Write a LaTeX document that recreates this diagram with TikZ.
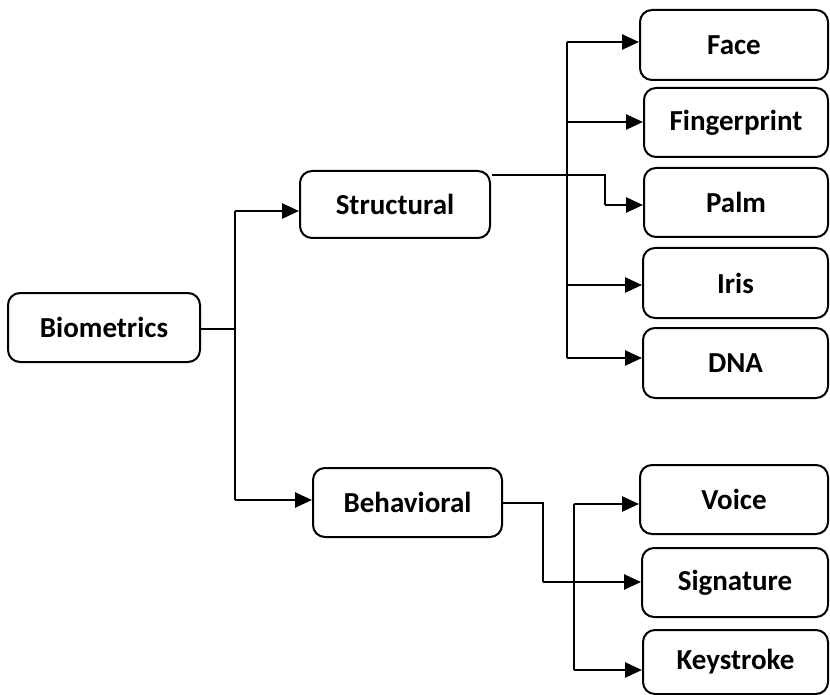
\documentclass[tikz,border=0pt]{standalone}
\usepackage{fontspec}
\setmainfont{Carlito}
\usetikzlibrary{arrows.meta}
\begin{document}
\begin{tikzpicture}[x=1pt,y=-1pt,
  box/.style={draw,line width=2pt,rounded corners=12pt,inner sep=0pt,
    font=\fontsize{29}{34}\selectfont\bfseries},
  link/.style={line width=2.6pt},
  thinlink/.style={line width=1.6pt},
  arr/.style={line width=2.6pt,-{Triangle[length=17pt,width=15pt]}}]
\useasboundingbox (0,0) rectangle (830,695);
% nodes
\node[box,minimum width=192pt,minimum height=69pt] (bio) at (104,327.5) {Biometrics};
\node[box,minimum width=190pt,minimum height=67pt] (str) at (395,204.5) {Structural};
\node[box,minimum width=189pt,minimum height=69pt] (beh) at (407.5,502.5) {Behavioral};
\node[box,minimum width=188pt,minimum height=70pt] (face) at (734,45) {Face};
\node[box,minimum width=184pt,minimum height=69pt] (fing) at (736,122.5) {Fingerprint};
\node[box,minimum width=184pt,minimum height=69pt] (palm) at (736,202.5) {Palm};
\node[box,minimum width=185pt,minimum height=70pt] (iris) at (735.5,283) {Iris};
\node[box,minimum width=185pt,minimum height=70pt] (dna) at (735.5,363) {DNA};
\node[box,minimum width=188pt,minimum height=69pt] (voice) at (734,499.5) {Voice};
\node[box,minimum width=186pt,minimum height=69pt] (sig) at (735,582.5) {Signature};
\node[box,minimum width=185pt,minimum height=64pt] (key) at (735.5,662) {Keystroke};
% junction coordinates
\coordinate (j0) at (235,329);
\coordinate (j0s) at (235,211);
\coordinate (j0b) at (235,500);
\coordinate (s0) at (492,175);
\coordinate (s1) at (605,175);
\coordinate (sf) at (567,42);
\coordinate (sg) at (567,122);
\coordinate (si) at (567,285);
\coordinate (sd) at (567,358);
\coordinate (b0) at (502,503);
\coordinate (b1) at (543,503);
\coordinate (bv) at (574,504);
\coordinate (bk) at (574,670);
% first level
\draw[thinlink] (bio.east |- j0) -- (j0);
\draw[link] (j0s) -- (j0b);
\draw[arr] (j0s) -- (str.west |- j0s);
\draw[arr] (j0b) -- (beh.west |- j0b);
% structural
\draw[link] (sf) -- (sd);
\draw[arr] (sf) -- (face.west |- sf);
\draw[arr] (sg) -- (fing.west |- sg);
\draw[arr] (si) -- (iris.west |- si);
\draw[arr] (sd) -- (dna.west |- sd);
\draw[link] (s0) -- (s1) -- (s1 |- 0,205);
\draw[arr] (s1 |- 0,205) -- (palm.west |- 0,205);
% behavioral
\draw[link] (bv) -- (bk);
\draw[arr] (bv) -- (voice.west |- bv);
\draw[arr] (bk) -- (key.west |- bk);
\draw[thinlink] (b0) -- (b1) -- (b1 |- 0,582);
\draw[arr] (b1 |- 0,582) -- (sig.west |- 0,582);
\end{tikzpicture}
\end{document}
